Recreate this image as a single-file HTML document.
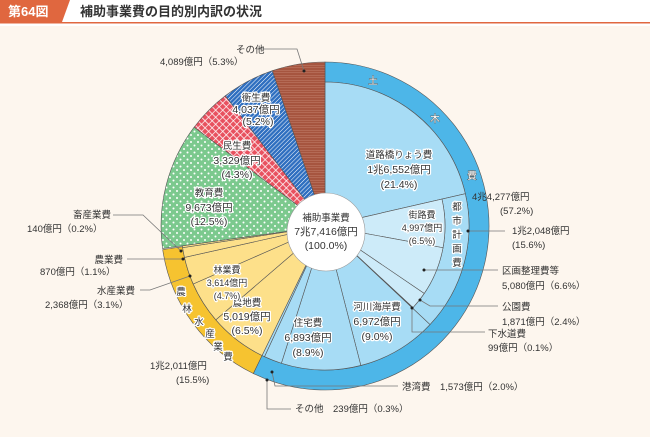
<!DOCTYPE html>
<html><head><meta charset="utf-8"><style>
body{margin:0;width:650px;height:432px;overflow:hidden;background:#fdf6ee;font-family:"Liberation Sans","Noto Sans CJK JP",sans-serif;}
svg text{font-family:"Liberation Sans","Noto Sans CJK JP",sans-serif;}
.h text{paint-order:stroke;stroke:#fff;stroke-width:2.5px;stroke-linejoin:round;}
.r text{paint-order:stroke;stroke:#555;stroke-width:0.8px;}
</style></head><body>
<svg id="s" width="650" height="432" viewBox="0 0 650 432" xmlns="http://www.w3.org/2000/svg">
<defs>
<pattern id="dots" width="7" height="7" patternUnits="userSpaceOnUse"><rect width="7" height="7" fill="#7cc98e"/><circle cx="2" cy="2" r="1" fill="#fff"/><circle cx="5.5" cy="5.5" r="1" fill="#fff"/></pattern>
<pattern id="cross" width="5" height="5" patternUnits="userSpaceOnUse" patternTransform="rotate(45)"><rect width="5" height="5" fill="#e8515f"/><path d="M0 0H5M0 0V5" stroke="#fff" stroke-width="1.4"/></pattern>
<pattern id="diag" width="3" height="3" patternUnits="userSpaceOnUse" patternTransform="rotate(45)"><rect width="3" height="3" fill="#2f6fc0"/><path d="M0 0V3" stroke="#fff" stroke-width="1"/></pattern>
<pattern id="hor" width="3" height="2.5" patternUnits="userSpaceOnUse"><rect width="3" height="2.5" fill="#a6553f"/><path d="M0 0H3" stroke="#c98a76" stroke-width="0.8"/></pattern>
</defs>
<rect x="0" y="0" width="650" height="26" fill="#fff"/>
<polygon points="0,0 70,0 62,22 0,22" fill="#e0673f"/>
<rect x="0" y="22" width="650" height="1.5" fill="#e0673f"/>
<text x="8" y="16" font-size="13" font-weight="bold" fill="#fff">第64図</text>
<text x="80" y="16" font-size="13" font-weight="bold" fill="#333">補助事業費の目的別内訳の状況</text>
<g id="pie"></g>
<circle cx="326" cy="232" r="39" fill="#fff" stroke="#999" stroke-width="0.6"/>
<g class="h" font-size="9.5" fill="#333" text-anchor="middle">
<text x="326" y="221">補助事業費</text><text x="326" y="235" font-size="10.5">7兆7,416億円</text><text x="326" y="249" font-size="10.5">(100.0%)</text>
<text x="399" y="158">道路橋りょう費</text><text x="399" y="173" font-size="10.5">1兆6,552億円</text><text x="399" y="188" font-size="10.5">(21.4%)</text>
<text x="422" y="218" font-size="9">街路費</text><text x="422" y="231" font-size="9">4,997億円</text><text x="422" y="244" font-size="9">(6.5%)</text>
<text x="457" y="210">都</text><text x="457" y="224">市</text><text x="457" y="238">計</text><text x="457" y="252">画</text><text x="457" y="266">費</text>
<text x="377" y="310">河川海岸費</text><text x="377" y="325" font-size="10.5">6,972億円</text><text x="377" y="340" font-size="10.5">(9.0%)</text>
<text x="308" y="326">住宅費</text><text x="308" y="341" font-size="10.5">6,893億円</text><text x="308" y="356" font-size="10.5">(8.9%)</text>
<text x="247" y="306">農地費</text><text x="247" y="320" font-size="10.5">5,019億円</text><text x="247" y="334" font-size="10.5">(6.5%)</text>
<text x="227" y="273" font-size="9">林業費</text><text x="227" y="286" font-size="9">3,614億円</text><text x="227" y="299" font-size="9">(4.7%)</text>
<text x="181" y="295">農</text><text x="187" y="312">林</text><text x="199" y="325">水</text><text x="210" y="337">産</text><text x="218" y="350">業</text><text x="228" y="360">費</text>
<text x="209" y="196">教育費</text><text x="209" y="211" font-size="10.5">9,673億円</text><text x="209" y="225" font-size="10.5">(12.5%)</text>
<text x="237" y="149">民生費</text><text x="237" y="164" font-size="10.5">3,329億円</text><text x="237" y="178" font-size="10.5">(4.3%)</text>
<text x="256" y="101">衛生費</text><text x="256" y="113" font-size="10.5">4,037億円</text><text x="258" y="125" font-size="10.5">(5.2%)</text>
</g>
<g class="r" font-size="9.5" fill="#fff" text-anchor="middle">
<text x="373" y="84">土</text><text x="435" y="122">木</text><text x="472" y="179">費</text>
</g>
<g font-size="9.5" fill="#333">
<text x="236" y="53">その他</text><text x="160" y="65">4,089億円（5.3%）</text>
<text x="472" y="200">4兆4,277億円</text><text x="500" y="214">(57.2%)</text>
<text x="512" y="234">1兆2,048億円</text><text x="512" y="248">(15.6%)</text>
<text x="502" y="274">区画整理費等</text><text x="502" y="289">5,080億円（6.6%）</text>
<text x="502" y="310">公園費</text><text x="502" y="325">1,871億円（2.4%）</text>
<text x="488" y="337">下水道費</text><text x="488" y="351">99億円（0.1%）</text>
<text x="402" y="390">港湾費　1,573億円（2.0%）</text>
<text x="295" y="412">その他　239億円（0.3%）</text>
<text x="150" y="369">1兆2,011億円</text><text x="176" y="383">(15.5%)</text>
<text x="135" y="294" text-anchor="end">水産業費</text><text x="45" y="308">2,368億円（3.1%）</text>
<text x="123" y="263" text-anchor="end">農業費</text><text x="40" y="275">870億円（1.1%）</text>
<text x="111" y="218" text-anchor="end">畜産業費</text><text x="27" y="232">140億円（0.2%）</text>
</g>
<g fill="none" stroke="#777" stroke-width="0.8">
<polyline points="258,49 297,49 304,71"/>
<polyline points="505,231 468,231"/>
<polyline points="498,270 424,270"/>
<polyline points="498,306 430,306 420,300"/>
<polyline points="485,332 412,332 412,308"/>
<polyline points="398,386 275,386 272,372"/>
<polyline points="291,409 267,409 267,380"/>
<polyline points="140,290 150,290 190,276"/>
<polyline points="127,259 183,259"/>
<polyline points="113,215 143,215 181,251"/>
</g>
<g fill="#222">
<circle cx="304" cy="71" r="1.5"/><circle cx="468" cy="231" r="1.5"/><circle cx="424" cy="270" r="1.5"/><circle cx="420" cy="300" r="1.5"/><circle cx="412" cy="308" r="1.5"/><circle cx="272" cy="372" r="1.5"/><circle cx="267" cy="380" r="1.5"/><circle cx="190" cy="276" r="1.5"/><circle cx="183" cy="259" r="1.5"/><circle cx="181" cy="251" r="1.5"/>
</g>
</svg>
<script>
var cx=325,cy=226,g=document.getElementById('pie'),NS='http://www.w3.org/2000/svg';
function P(a,r){a=a*Math.PI/180;return [cx+r*Math.sin(a),cy-r*Math.cos(a)];}
function wedge(a0,a1,r0,r1,fill){var p0=P(a0,r1),p1=P(a1,r1),p2=P(a1,r0),p3=P(a0,r0),l=(a1-a0)>180?1:0;
var d='M'+p0+'A'+r1+','+r1+' 0 '+l+' 1 '+p1+'L'+p2+'A'+r0+','+r0+' 0 '+l+' 0 '+p3+'Z';
var e=document.createElementNS(NS,'path');e.setAttribute('d',d);e.setAttribute('fill',fill);e.setAttribute('stroke','#555');e.setAttribute('stroke-width','0.6');g.appendChild(e);}
var k=3.6,a=0;
var dob=[[21.4,'#a7dcf5'],[15.6,'city'],[9.0,'#a7dcf5'],[8.9,'#a7dcf5'],[2.0,'#a7dcf5'],[0.3,'#a7dcf5']];
wedge(0,57.2*k,144,164,'#4db6e8');
dob.forEach(function(s){var b=a+s[0]*k;
 if(s[1]=='city'){wedge(a,b,120,144,'#a7dcf5');var c=a;[6.5,6.6,2.4,0.1].forEach(function(t){var d=c+t*k;wedge(c,d,30,120,'#cdebf9');c=d;});}
 else wedge(a,b,30,144,s[1]);a=b;});
a=57.2*k;
wedge(a,a+15.5*k,144,164,'#f6c330');
[6.5,4.7,3.1,1.1,0.2].forEach(function(v){var b=a+v*k;wedge(a,b,30,144,'#fde08a');a=b;});
[[12.5,'url(#dots)'],[4.3,'url(#cross)'],[5.2,'url(#diag)'],[5.3,'url(#hor)']].forEach(function(s){var b=a+s[0]*k;if(b>359.9)b=359.99;wedge(a,b,30,164,s[1]);a=b;});
</script>
</body></html>
